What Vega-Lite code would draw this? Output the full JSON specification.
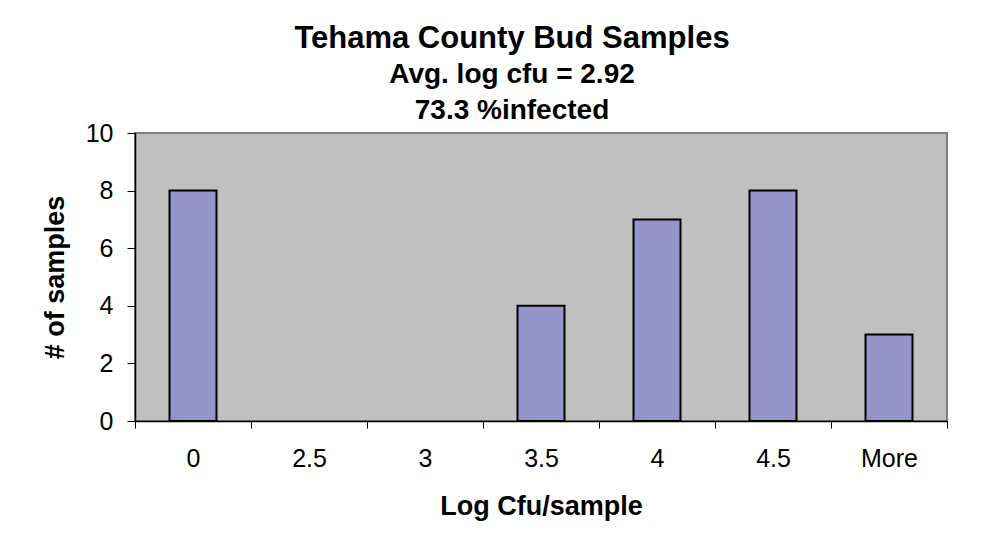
{
  "$schema": "https://vega.github.io/schema/vega-lite/v6.json",
  "width": 812,
  "height": 288,
  "autosize": {"type": "none"},
  "padding": {"left": 135, "top": 133, "right": 44, "bottom": 129},
  "background": "white",
  "config": {
    "font": "Liberation Sans",
    "view": {"fill": "#C0C0C0", "stroke": "#808080", "strokeWidth": 2}
  },
  "title": {
    "text": "Tehama County Bud Samples",
    "subtitle": ["Avg. log cfu = 2.92", "73.3 %infected"],
    "anchor": "middle",
    "frame": "group",
    "dx": -29,
    "offset": -5,
    "font": "Liberation Sans",
    "fontSize": 31,
    "fontWeight": "bold",
    "color": "black",
    "subtitleFont": "Liberation Sans",
    "subtitleFontSize": 28,
    "subtitleFontWeight": "bold",
    "subtitleColor": "black",
    "subtitleLineHeight": 36,
    "subtitlePadding": 6
  },
  "data": {
    "values": [
      {"bin": "0", "count": 8},
      {"bin": "2.5", "count": 0},
      {"bin": "3", "count": 0},
      {"bin": "3.5", "count": 4},
      {"bin": "4", "count": 7},
      {"bin": "4.5", "count": 8},
      {"bin": "More", "count": 3}
    ]
  },
  "mark": {
    "type": "bar",
    "fill": "#9494C8",
    "stroke": "black",
    "width": {"band": 0.405}
  },
  "encoding": {
    "x": {
      "field": "bin",
      "type": "ordinal",
      "sort": null,
      "scale": {"paddingInner": 0, "paddingOuter": 0},
      "axis": {
        "title": "Log Cfu/sample",
        "titleFontSize": 27,
        "titleFontWeight": "bold",
        "titleColor": "black",
        "titlePadding": 22,
        "labelAngle": 0,
        "labelFontSize": 25,
        "labelColor": "black",
        "labelPadding": 18,
        "tickBand": "extent",
        "tickSize": 7,
        "tickColor": "black",
        "domainColor": "black",
        "domainWidth": 1.5,
        "grid": false
      }
    },
    "y": {
      "field": "count",
      "type": "quantitative",
      "scale": {"domain": [0, 10]},
      "axis": {
        "title": "# of samples",
        "titleFontSize": 27,
        "titleFontWeight": "bold",
        "titleColor": "black",
        "titlePadding": 16,
        "values": [0, 2, 4, 6, 8, 10],
        "labelFontSize": 25,
        "labelColor": "black",
        "labelPadding": 14,
        "tickSize": 8,
        "tickColor": "black",
        "domainColor": "black",
        "domainWidth": 1.5,
        "grid": false
      }
    },
    "strokeWidth": {
      "condition": {"test": "datum.count == 0", "value": 0},
      "value": 2
    }
  }
}
